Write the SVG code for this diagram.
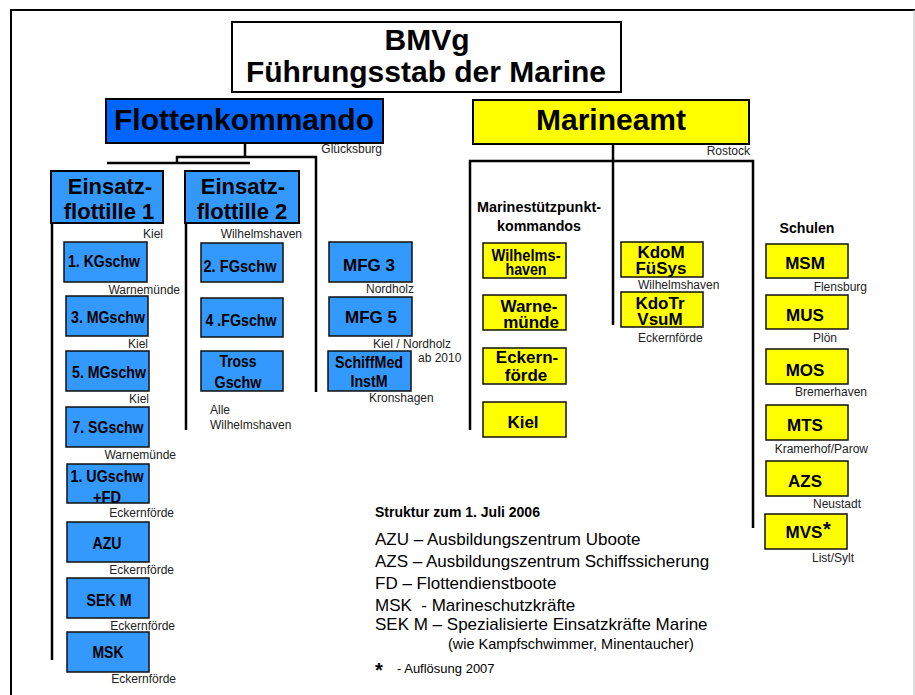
<svg xmlns="http://www.w3.org/2000/svg" width="915" height="695" viewBox="0 0 915 695">
<style>
.bg{fill:#fff}
.frame{fill:none;stroke:#000;stroke-width:2}
.conn line,.conn path{stroke:#000;stroke-width:2.5;fill:none}
.title{fill:#fff;stroke:#000;stroke-width:2}
.fk{fill:#0066ff;stroke:#000;stroke-width:2}
.bl{fill:#3399ff;stroke:#111;stroke-width:1.5}
.ef{fill:#3399ff;stroke:#000;stroke-width:2}
.ye{fill:#ffff00;stroke:#111;stroke-width:1.5}
.ma{fill:#ffff00;stroke:#000;stroke-width:2}
text{font-family:"Liberation Sans",Arial,sans-serif;fill:#000}
.big{font-size:30px;font-weight:bold;text-anchor:middle}
.efl{font-size:22px;font-weight:bold;text-anchor:middle}
.nb{font-family:"Liberation Sans Narrow","Arial Narrow","Liberation Sans",sans-serif;font-size:17px;font-weight:bold;text-anchor:middle}
.b17{font-size:17px;font-weight:bold;text-anchor:middle}
.sm{font-size:12px;fill:#222}
.end{text-anchor:end}
.leg{font-size:17px}
</style>
<rect class="bg" x="0" y="0" width="915" height="695"/>
<path class="frame" d="M11,695 V10 H915"/>
<line x1="914" y1="10" x2="914" y2="695" stroke="#bbb" stroke-width="1"/>

<g class="conn" id="connectors">
<path d="M245,143 V157"/>
<path d="M177,163 V157 H316 V392"/>
<line x1="107" y1="163" x2="250" y2="163"/>
<line x1="52" y1="223" x2="52" y2="660"/>
<line x1="186" y1="223" x2="186" y2="430"/>
<path d="M613,144 V325"/>
<path d="M470,430 V161 H753 V528"/>
</g>

<g id="bmvg">
<rect class="title" x="232" y="22" width="389" height="70"/>
<text class="big" x="427" y="50">BMVg</text>
<text class="big" x="426" y="82">Führungsstab der Marine</text>
</g>

<g id="flottenkommando">
<rect class="fk" x="106" y="99" width="277" height="44"/>
<text class="big" x="244" y="130">Flottenkommando</text>
<text class="sm end" x="382" y="153">Glücksburg</text>
</g>

<g id="marineamt">
<rect class="ma" x="473" y="100" width="276" height="44"/>
<text class="big" x="611" y="130">Marineamt</text>
<text class="sm end" x="750" y="155">Rostock</text>
</g>

<g id="ef1">
<rect class="ef" x="51" y="171" width="112" height="52"/>
<text class="efl" x="110" y="194">Einsatz-</text>
<text class="efl" x="109" y="219">flottille 1</text>
<text class="sm end" x="163" y="238">Kiel</text>
</g>
<g id="ef2">
<rect class="ef" x="185" y="171" width="114" height="52"/>
<text class="efl" x="243" y="194">Einsatz-</text>
<text class="efl" x="242" y="219">flottille 2</text>
<text class="sm end" x="302" y="238">Wilhelmshaven</text>
</g>

<g id="kgschw1">
<rect class="bl" x="64" y="242" width="83" height="40"/>
<text class="nb" x="104" y="267" textLength="72" lengthAdjust="spacingAndGlyphs">1. KGschw</text>
<text class="sm end" x="180" y="294">Warnemünde</text>
</g>
<g id="mgschw3">
<rect class="bl" x="66" y="296" width="82" height="40"/>
<text class="nb" x="108" y="323" textLength="74" lengthAdjust="spacingAndGlyphs">3. MGschw</text>
<text class="sm end" x="148" y="348">Kiel</text>
</g>
<g id="mgschw5">
<rect class="bl" x="66" y="351" width="83" height="40"/>
<text class="nb" x="109" y="378" textLength="74" lengthAdjust="spacingAndGlyphs">5. MGschw</text>
<text class="sm end" x="149" y="403">Kiel</text>
</g>
<g id="sgschw7">
<rect class="bl" x="66" y="407" width="83" height="40"/>
<text class="nb" x="108" y="433" textLength="71" lengthAdjust="spacingAndGlyphs">7. SGschw</text>
<text class="sm end" x="176" y="459">Warnemünde</text>
</g>
<g id="ugschw1">
<rect x="67" y="464" width="82" height="39" fill="#3399ff"/>
<text class="nb" x="107" y="482" textLength="73" lengthAdjust="spacingAndGlyphs">1. UGschw</text>
<text class="nb" x="107" y="503" textLength="28" lengthAdjust="spacingAndGlyphs">+FD</text>
<rect x="67" y="464" width="82" height="39" fill="none" stroke="#111" stroke-width="1.5"/>
<text class="sm end" x="174" y="517">Eckernförde</text>
</g>
<g id="azu">
<rect class="bl" x="67" y="522" width="82" height="40"/>
<text class="nb" x="107" y="549" textLength="29" lengthAdjust="spacingAndGlyphs">AZU</text>
<text class="sm end" x="174" y="574">Eckernförde</text>
</g>
<g id="sekm">
<rect class="bl" x="67" y="578" width="82" height="40"/>
<text class="nb" x="109" y="606" textLength="45" lengthAdjust="spacingAndGlyphs">SEK M</text>
<text class="sm end" x="175" y="630">Eckernförde</text>
</g>
<g id="msk">
<rect class="bl" x="67" y="632" width="82" height="40"/>
<text class="nb" x="108" y="658" textLength="31" lengthAdjust="spacingAndGlyphs">MSK</text>
<text class="sm end" x="176" y="683">Eckernförde</text>
</g>

<g id="fgschw2">
<rect class="bl" x="201" y="243" width="82" height="39"/>
<text class="nb" x="240" y="272" textLength="73" lengthAdjust="spacingAndGlyphs">2. FGschw</text>
</g>
<g id="fgschw4">
<rect class="bl" x="201" y="298" width="82" height="39"/>
<text class="nb" x="241" y="326" textLength="71" lengthAdjust="spacingAndGlyphs">4 .FGschw</text>
</g>
<g id="trossgschw">
<rect class="bl" x="201" y="351" width="82" height="40"/>
<text class="nb" x="238" y="367" textLength="37" lengthAdjust="spacingAndGlyphs">Tross</text>
<text class="nb" x="238" y="388" textLength="47" lengthAdjust="spacingAndGlyphs">Gschw</text>
<text class="sm" x="210" y="414">Alle</text>
<text class="sm" x="210" y="429">Wilhelmshaven</text>
</g>

<g id="mfg3">
<rect class="bl" x="329" y="242" width="83" height="40"/>
<text class="b17" x="369" y="271">MFG 3</text>
<text class="sm end" x="414" y="293">Nordholz</text>
</g>
<g id="mfg5">
<rect class="bl" x="329" y="297" width="83" height="39"/>
<text class="b17" x="371" y="323">MFG 5</text>
<text class="sm end" x="451" y="348">Kiel / Nordholz</text>
<text class="sm" x="418" y="362">ab 2010</text>
</g>
<g id="schiffmed">
<rect class="bl" x="328" y="351" width="83" height="40"/>
<text class="nb" x="369" y="368" textLength="68" lengthAdjust="spacingAndGlyphs">SchiffMed</text>
<text class="nb" x="369" y="387" textLength="37" lengthAdjust="spacingAndGlyphs">InstM</text>
<text class="sm" x="369" y="402">Kronshagen</text>
</g>

<g id="msp-label">
<text class="nb" x="539" y="212" textLength="124" lengthAdjust="spacingAndGlyphs" style="font-size:15px">Marinestützpunkt-</text>
<text class="nb" x="539" y="231" textLength="84" lengthAdjust="spacingAndGlyphs" style="font-size:15px">kommandos</text>
</g>
<g id="msp-wilhelmshaven">
<rect class="ye" x="483" y="243" width="83" height="35"/>
<text class="nb" x="526" y="261" textLength="69" lengthAdjust="spacingAndGlyphs" style="font-size:16px">Wilhelms-</text>
<text class="nb" x="526" y="275" textLength="41" lengthAdjust="spacingAndGlyphs" style="font-size:16px">haven</text>
</g>
<g id="msp-warnemuende">
<rect class="ye" x="483" y="295" width="83" height="35"/>
<text class="b17" x="529" y="312">Warne-</text>
<text class="b17" x="531" y="328">münde</text>
</g>
<g id="msp-eckernfoerde">
<rect class="ye" x="483" y="348" width="83" height="36"/>
<text class="b17" x="527" y="363">Eckern-</text>
<text class="b17" x="526" y="381">förde</text>
</g>
<g id="msp-kiel">
<rect class="ye" x="483" y="402" width="83" height="35"/>
<text class="b17" x="523" y="428">Kiel</text>
</g>

<g id="kdomfuesys">
<rect class="ye" x="621" y="242" width="82" height="35"/>
<text class="b17" x="661" y="258">KdoM</text>
<text class="b17" x="661" y="274">FüSys</text>
<text class="sm" x="638" y="289">Wilhelmshaven</text>
</g>
<g id="kdotrvsum">
<rect class="ye" x="621" y="292" width="82" height="35"/>
<text class="b17" x="660" y="309">KdoTr</text>
<text class="b17" x="660" y="325">VsuM</text>
<text class="sm" x="638" y="342">Eckernförde</text>
</g>

<g id="schulen-label">
<text class="nb" x="807" y="233" textLength="55" lengthAdjust="spacingAndGlyphs" style="font-size:15px">Schulen</text>
</g>
<g id="msm">
<rect class="ye" x="766" y="244" width="82" height="34"/>
<text class="b17" x="805" y="269">MSM</text>
<text class="sm end" x="867" y="291">Flensburg</text>
</g>
<g id="mus">
<rect class="ye" x="766" y="295" width="82" height="34"/>
<text class="b17" x="805" y="321">MUS</text>
<text class="sm" x="813" y="342">Plön</text>
</g>
<g id="mos">
<rect class="ye" x="766" y="349" width="82" height="35"/>
<text class="b17" x="805" y="376">MOS</text>
<text class="sm end" x="867" y="396">Bremerhaven</text>
</g>
<g id="mts">
<rect class="ye" x="766" y="405" width="82" height="35"/>
<text class="b17" x="805" y="431">MTS</text>
<text class="sm end" x="868" y="453">Kramerhof/Parow</text>
</g>
<g id="azs">
<rect class="ye" x="766" y="461" width="82" height="35"/>
<text class="b17" x="805" y="487">AZS</text>
<text class="sm end" x="861" y="508">Neustadt</text>
</g>
<g id="mvs">
<rect class="ye" x="765" y="514" width="82" height="35"/>
<text class="b17" x="804" y="538">MVS</text>
<text x="823" y="536" style="font-size:20px;font-weight:bold">*</text>
<text class="sm end" x="854" y="562">List/Sylt</text>
</g>

<g id="legend">
<text x="375" y="517" style="font-size:14px;font-weight:bold">Struktur zum 1. Juli 2006</text>
<text class="leg" x="375" y="545">AZU – Ausbildungszentrum Uboote</text>
<text class="leg" x="375" y="567">AZS – Ausbildungszentrum Schiffssicherung</text>
<text class="leg" x="375" y="589">FD – Flottendienstboote</text>
<text class="leg" x="375" y="611" xml:space="preserve">MSK  - Marineschutzkräfte</text>
<text class="leg" x="375" y="630">SEK M – Spezialisierte Einsatzkräfte Marine</text>
<text x="448" y="649" style="font-size:14.5px">(wie Kampfschwimmer, Minentaucher)</text>
<text x="375" y="677" style="font-size:20px;font-weight:bold">*</text>
<text x="397" y="673" style="font-size:13px">- Auflösung 2007</text>
</g>
</svg>
